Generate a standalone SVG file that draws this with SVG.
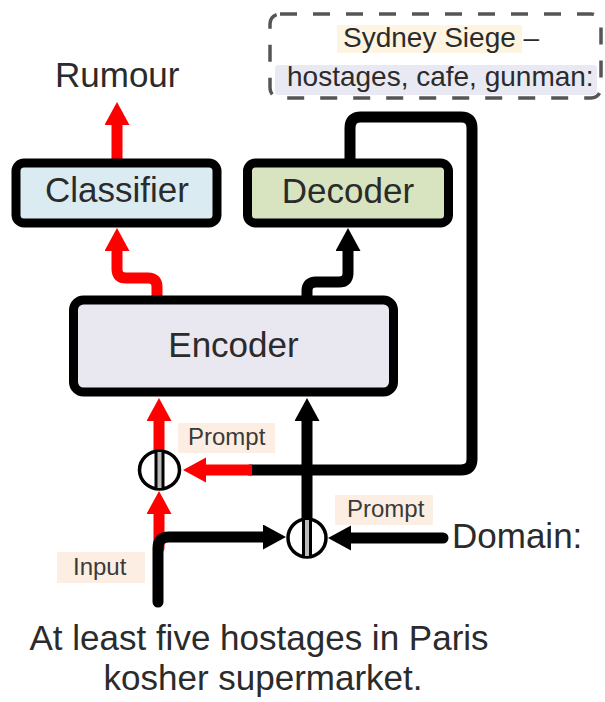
<svg xmlns="http://www.w3.org/2000/svg" width="605" height="702" viewBox="0 0 605 702">
  <style>
    text { font-family: "Liberation Sans", Arial, sans-serif; fill: #2b2b2b; }
    .big { font-size: 35px; }
    .mid { font-size: 28px; }
    .tag { font-size: 24px; fill: #3a3a3a; }
    .box { stroke: #000; stroke-width: 9; }
    .wire { fill: none; stroke: #000; stroke-width: 11; stroke-linecap: round; stroke-linejoin: round; }
    .wire.red { stroke: #ff0000; }
    .concat { fill: #fff; stroke: #000; stroke-width: 3.5; }
    .bar { stroke: #000; stroke-width: 3; }
  </style>
  <defs>
    <marker id="headBlack" markerUnits="userSpaceOnUse" markerWidth="24" markerHeight="26" refX="1" refY="12.5" orient="auto">
      <path d="M0,0 L23,12.5 L0,25 Z" fill="#000"/>
    </marker>
    <marker id="headRed" markerUnits="userSpaceOnUse" markerWidth="24" markerHeight="26" refX="1" refY="12.5" orient="auto">
      <path d="M0,0 L23,12.5 L0,25 Z" fill="#ff0000"/>
    </marker>
  </defs>

  <rect width="605" height="702" fill="#fff"/>

  <!-- prompt template -->
  <g id="template">
    <rect x="270" y="14" width="331" height="84" rx="10" fill="none" stroke="#555" stroke-width="3.5" stroke-dasharray="17 16"/>
    <rect x="337" y="25" width="185" height="28" fill="#fdf4e1"/>
    <text class="mid" x="343" y="47">Sydney Siege –</text>
    <rect x="275" y="65" width="322" height="30" rx="4" fill="#e8e9f3"/>
    <text class="mid" x="287" y="86">hostages, cafe, gunman:</text>
  </g>

  <!-- connectors -->
  <g id="connectors">
    <path class="wire red" d="M117,163 V124" marker-end="url(#headRed)"/>
    <path class="wire red" d="M157,300 V287 Q157,278 148,278 H126 Q117,278 117,269 V250" marker-end="url(#headRed)"/>
    <path class="wire" d="M307,300 V291 Q307,282 316,282 H339 Q348,282 348,273 V250" marker-end="url(#headBlack)"/>
    <path class="wire" d="M350,163 V128 Q350,117 361,117 H461 Q472,117 472,128 V459 Q472,470 461,470 H250"/>
    <path class="wire red" d="M252,470 H205" style="stroke-linecap:butt" marker-end="url(#headRed)"/>
    <path class="wire red" d="M159,450 V420" marker-end="url(#headRed)"/>
    <path class="wire" d="M307,518 V420" marker-end="url(#headBlack)"/>
    <path class="wire red" d="M159,548 V513" marker-end="url(#headRed)"/>
    <path class="wire" d="M158,602 V548 Q158,537 169,537 H264" marker-end="url(#headBlack)"/>
    <path class="wire" d="M443,538 H350" marker-end="url(#headBlack)"/>
  </g>

  <g id="rumour">
    <text class="big" x="55" y="87">Rumour</text>
  </g>

  <g id="classifier">
    <rect class="box" x="16" y="163" width="201" height="60" rx="8" fill="#dbebf2"/>
    <text class="big" x="117" y="202" text-anchor="middle">Classifier</text>
  </g>

  <g id="decoder">
    <rect class="box" x="247.5" y="163" width="201" height="60" rx="8" fill="#d8e4c0"/>
    <text class="big" x="348" y="203" text-anchor="middle">Decoder</text>
  </g>

  <g id="encoder">
    <rect class="box" x="73.5" y="300" width="320" height="92" rx="10" fill="#e9e7ef"/>
    <text class="big" x="233.5" y="357" text-anchor="middle">Encoder</text>
  </g>

  <g id="concat-prompt">
    <ellipse class="concat" cx="159.5" cy="470" rx="20" ry="19"/>
    <rect x="156" y="452" width="7" height="36" fill="#bbb"/>
    <line class="bar" x1="156" y1="452" x2="156" y2="488"/>
    <line class="bar" x1="163" y1="452" x2="163" y2="488"/>
  </g>

  <g id="concat-domain">
    <ellipse class="concat" cx="307" cy="538" rx="19" ry="19"/>
    <rect x="303.5" y="520" width="7" height="36" fill="#bbb"/>
    <line class="bar" x1="303.5" y1="520" x2="303.5" y2="556"/>
    <line class="bar" x1="310.5" y1="520" x2="310.5" y2="556"/>
  </g>

  <g id="label-prompt-1">
    <rect x="178" y="423" width="97" height="30" fill="#fdeee4"/>
    <text class="tag" x="188" y="445">Prompt</text>
  </g>

  <g id="label-prompt-2">
    <rect x="335" y="495" width="98" height="30" fill="#fdeee4"/>
    <text class="tag" x="347" y="517">Prompt</text>
  </g>

  <g id="label-input">
    <rect x="57" y="552" width="88" height="31" fill="#fdeee4"/>
    <text class="tag" x="73" y="575">Input</text>
  </g>

  <g id="domain">
    <text class="big" x="452" y="548">Domain:</text>
  </g>

  <g id="input-text">
    <text class="big" x="259" y="650" text-anchor="middle">At least five hostages in Paris</text>
    <text class="big" x="263" y="690" text-anchor="middle">kosher supermarket.</text>
  </g>
</svg>
